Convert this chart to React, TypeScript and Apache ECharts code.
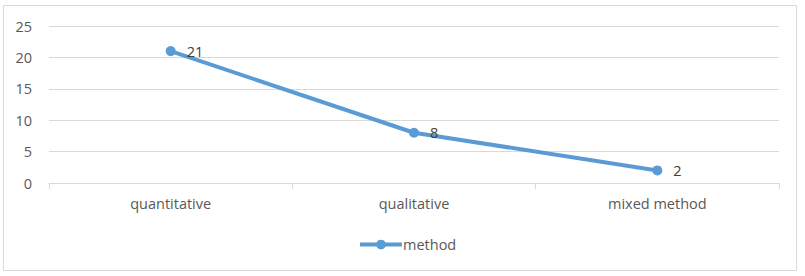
import React, { useEffect, useRef } from "react";
import * as echarts from "echarts";

const categories = ["quantitative", "qualitative", "mixed method"];
const methodValues = [21, 8, 2];
const seriesName = "method";

export default function App() {
  const ref = useRef<HTMLDivElement>(null);
  useEffect(() => {
    if (!ref.current) return;
    const chart = echarts.init(ref.current, undefined, { renderer: "svg" });
    const font = "Open Sans";
    const fs = 14.5;
    chart.setOption({
      animation: false,
      backgroundColor: "#ffffff",
      textStyle: { fontFamily: font },
      graphic: [
        {
          type: "rect",
          shape: { x: 3.5, y: 5.5, width: 793, height: 265 },
          style: { fill: "none", stroke: "#d9d9d9", lineWidth: 1 },
          silent: true,
        },
      ],
      grid: { left: 49, right: 26, top: 26, bottom: 93, containLabel: false },
      legend: {
        top: 232,
        left: 353,
        itemWidth: 42,
        itemHeight: 12,
        itemGap: 2,
        lineStyle: { width: 4, color: "#5b9bd5" },
        itemStyle: { color: "#5b9bd5" },
        textStyle: { color: "#595959", fontSize: fs, fontFamily: font, padding: [0, 0, 0, -4] },
        data: [seriesName],
      },
      xAxis: {
        type: "category",
        data: categories,
        boundaryGap: true,
        axisLine: { lineStyle: { color: "#d9d9d9", width: 1 } },
        axisTick: { show: true, length: 6, lineStyle: { color: "#d9d9d9" } },
        axisLabel: { color: "#595959", fontSize: fs, margin: 13, fontFamily: font },
      },
      yAxis: {
        type: "value",
        min: 0,
        max: 25,
        interval: 5,
        axisLine: { show: false },
        axisTick: { show: false },
        splitLine: { lineStyle: { color: "#d9d9d9", width: 1 } },
        axisLabel: { color: "#595959", fontSize: fs, margin: 17, fontFamily: font },
      },
      series: [
        {
          name: seriesName,
          type: "line",
          data: methodValues,
          symbol: "circle",
          symbolSize: 10,
          itemStyle: { color: "#5b9bd5" },
          lineStyle: { color: "#5b9bd5", width: 4 },
          label: {
            show: true,
            position: "right",
            distance: 11,
            color: "#404040",
            fontSize: fs,
            fontFamily: font,
          },
        },
      ],
    });
    return () => chart.dispose();
  }, []);
  return (
    <div
      ref={ref}
      style={{ position: "fixed", left: 0, top: 0, width: 805, height: 276 }}
    />
  );
}
